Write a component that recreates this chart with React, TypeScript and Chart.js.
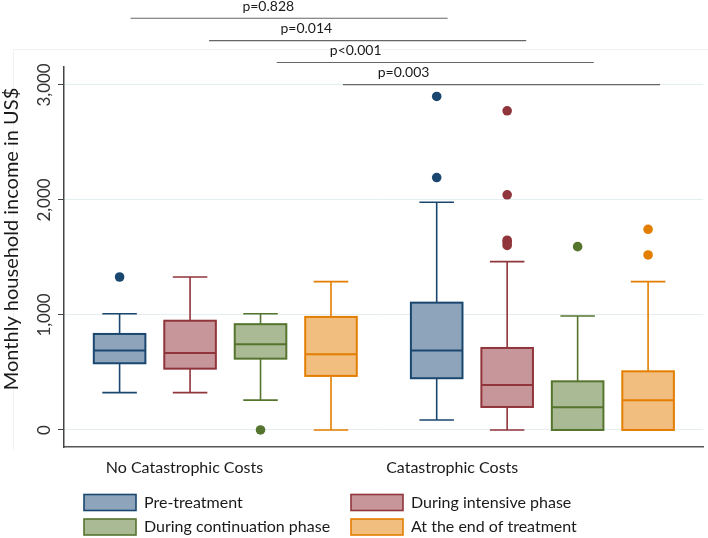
import React, { useEffect, useRef } from "react";
import { Chart, registerables } from "chart.js";
Chart.register(...registerables);

const groupLabels = ["No Catastrophic Costs", "Catastrophic Costs"];
const seriesLabels = ["Pre-treatment", "During intensive phase", "During continuation phase", "At the end of treatment"];
// [series][group]
const lowerWhisker = [[325, 87], [325, 0], [260, 0], [0, 0]];
const firstQuartile = [[580, 450], [533, 200], [620, 0], [470, 0]];
const medianValues = [[690, 690], [670, 391], [745, 197], [658, 258]];
const thirdQuartile = [[835, 1107], [950, 713], [920, 423], [983, 510]];
const upperWhisker = [[1010, 1980], [1330, 1464], [1010, 991], [1290, 1290]];
const outlierValues = [
  [[1330], [2900, 2195]],
  [[], [2775, 2045, 1650, 1630, 1605]],
  [[0], [1594]],
  [[], [1745, 1522]],
];
const yTickValues = [0, 1000, 2000, 3000];
const yTickLabels = ["0", "1,000", "2,000", "3,000"];
const pValueLabels = ["p=0.828", "p=0.014", "p<0.001", "p=0.003"];
const pValueLevels = [3580, 3385, 3195, 3003];

const borderColors = ["#1a476f", "#90353b", "#55752f", "#e37e00"];
const fillColors = ["#8ea4bb", "#c7969a", "#a9ba95", "#f1be7f"];
const FONT = "Lato, 'Noto Sans', sans-serif";

const slot = (g: number, s: number) => 1 + g * 4.5 + s;

const boxPlugin = {
  id: "boxes",
  beforeDatasetsDraw(chart: any) {
    const ctx = chart.ctx;
    const xs = chart.scales.x;
    const ys = chart.scales.y;
    const boxHalf = 0.366;
    const capHalf = 0.245;
    ctx.save();
    for (let s = 0; s < 4; s++) {
      for (let g = 0; g < 2; g++) {
        const c = slot(g, s);
        const xc = xs.getPixelForValue(c);
        const xl = xs.getPixelForValue(c - boxHalf);
        const xr = xs.getPixelForValue(c + boxHalf);
        const cl = xs.getPixelForValue(c - capHalf);
        const cr = xs.getPixelForValue(c + capHalf);
        const yLo = ys.getPixelForValue(lowerWhisker[s][g]);
        const yQ1 = ys.getPixelForValue(firstQuartile[s][g]);
        const yMed = ys.getPixelForValue(medianValues[s][g]);
        const yQ3 = ys.getPixelForValue(thirdQuartile[s][g]);
        const yHi = ys.getPixelForValue(upperWhisker[s][g]);
        ctx.strokeStyle = borderColors[s];
        ctx.lineWidth = 1.6;
        ctx.beginPath();
        ctx.moveTo(xc, yQ3); ctx.lineTo(xc, yHi);
        ctx.moveTo(cl, yHi); ctx.lineTo(cr, yHi);
        ctx.moveTo(xc, yQ1); ctx.lineTo(xc, yLo);
        ctx.moveTo(cl, yLo); ctx.lineTo(cr, yLo);
        ctx.stroke();
        ctx.fillStyle = fillColors[s];
        ctx.fillRect(xl, yQ3, xr - xl, yQ1 - yQ3);
        ctx.lineWidth = 2;
        ctx.strokeRect(xl, yQ3, xr - xl, yQ1 - yQ3);
        ctx.beginPath();
        ctx.moveTo(xl, yMed); ctx.lineTo(xr, yMed);
        ctx.stroke();
      }
    }
    ctx.restore();
  },
  afterDraw(chart: any) {
    const ctx = chart.ctx;
    const xs = chart.scales.x;
    const ys = chart.scales.y;
    ctx.save();
    // faint graph region outline
    ctx.strokeStyle = "#edf2f4";
    ctx.lineWidth = 1;
    ctx.beginPath();
    ctx.moveTo(13.5, 450); ctx.lineTo(13.5, 49.5); ctx.lineTo(708, 49.5);
    ctx.stroke();

    // y tick labels
    ctx.fillStyle = "#333";
    ctx.font = `17px ${FONT}`;
    ctx.textAlign = "center";
    ctx.textBaseline = "middle";
    yTickValues.forEach((v, i) => {
      const y = ys.getPixelForValue(v);
      ctx.save();
      ctx.translate(45, y);
      ctx.rotate(-Math.PI / 2);
      ctx.fillText(yTickLabels[i], 0, 0);
      ctx.restore();
    });
    // y title
    ctx.fillStyle = "#1a1a1a";
    ctx.font = `20px ${FONT}`;
    ctx.save();
    ctx.translate(12, 239);
    ctx.rotate(-Math.PI / 2);
    ctx.fillText("Monthly household income in US$", 0, 0);
    ctx.restore();

    // group labels
    ctx.font = `16px ${FONT}`;
    const groupCenters = [1.92, 5.72];
    groupLabels.forEach((lab, g) => {
      ctx.fillText(lab, xs.getPixelForValue(groupCenters[g]), 468);
    });

    // p-value brackets
    const lineOffset = [0.155, 0.27, 0.23, 0.17];
    const textAt = [3.11, 3.65, 4.35, 5.03];
    ctx.font = `14px ${FONT}`;
    pValueLabels.forEach((lab, i) => {
      const y = ys.getPixelForValue(pValueLevels[i]);
      const x1 = xs.getPixelForValue(slot(0, i) + lineOffset[i]);
      const x2 = xs.getPixelForValue(slot(1, i) + lineOffset[i]);
      ctx.strokeStyle = "#666";
      ctx.lineWidth = 1.2;
      ctx.beginPath();
      ctx.moveTo(x1, y); ctx.lineTo(x2, y);
      ctx.stroke();
      ctx.fillStyle = "#1a1a1a";
      ctx.fillText(lab, xs.getPixelForValue(textAt[i]), y - 12);
    });

    // legend
    ctx.font = `16px ${FONT}`;
    ctx.textAlign = "left";
    const cols = [84, 351];
    const rows = [502.5, 527];
    seriesLabels.forEach((lab, s) => {
      const cx = cols[s % 2];
      const cy = rows[Math.floor(s / 2)];
      ctx.fillStyle = fillColors[s];
      ctx.fillRect(cx, cy - 8, 52, 16);
      ctx.strokeStyle = borderColors[s];
      ctx.lineWidth = 1.6;
      ctx.strokeRect(cx, cy - 8, 52, 16);
      ctx.fillStyle = "#1a1a1a";
      ctx.fillText(lab, cx + 60, cy);
    });
    ctx.restore();
  },
};

export default function App() {
  const ref = useRef<HTMLCanvasElement>(null);
  useEffect(() => {
    if (!ref.current) return;
    const datasets = seriesLabels.map((lab, s) => ({
      label: lab,
      type: "scatter" as const,
      data: outlierValues[s].flatMap((vals, g) => vals.map((v) => ({ x: slot(g, s), y: v }))),
      backgroundColor: borderColors[s],
      borderWidth: 0,
      pointRadius: 4.8,
    }));
    const chart = new Chart(ref.current, {
      type: "scatter",
      data: { datasets },
      plugins: [boxPlugin],
      options: {
        animation: false,
        responsive: false,
        maintainAspectRatio: false,
        layout: { padding: { top: 67, left: 0, right: 0, bottom: 0 } },
        plugins: { legend: { display: false }, tooltip: { enabled: false } },
        scales: {
          x: {
            type: "linear",
            min: 0.211,
            max: 9.282,
            ticks: { display: false },
            grid: { display: false, drawTicks: false },
            border: { display: true, color: "#555", width: 1.5 },
            afterFit: (scale: any) => { scale.height = 91; },
          },
          y: {
            type: "linear",
            min: -148,
            max: 3156,
            ticks: { display: false },
            afterBuildTicks: (scale: any) => { scale.ticks = yTickValues.map((v) => ({ value: v })); },
            grid: { color: "#e4eef0", lineWidth: 1, tickColor: "#444", tickLength: 6, drawTicks: true },
            border: { display: true, color: "#444", width: 1.5 },
            afterFit: (scale: any) => { scale.width = 64; },
          },
        },
      },
    });
    return () => chart.destroy();
  }, []);
  return (
    <div style={{ position: "fixed", left: 0, top: 0, width: 708, height: 538, background: "#fff" }}>
      <canvas ref={ref} width={708} height={538} style={{ width: 708, height: 538 }} />
    </div>
  );
}
